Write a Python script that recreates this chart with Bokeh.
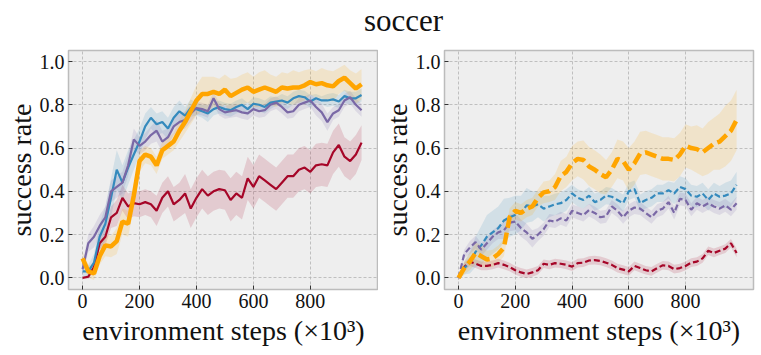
from bokeh.plotting import figure
from bokeh.layouts import column, row
from bokeh.models import FixedTicker, PrintfTickFormatter, Range1d
from bokeh.embed import file_html
from bokeh.resources import INLINE

# ---------------- data ----------------
title_text = "soccer"
x_label = "environment steps (×10³)"
y_label = "success rate"
x_ticks = [0, 200, 400, 600, 800]
y_ticks = [0.0, 0.2, 0.4, 0.6, 0.8, 1.0]

steps = list(range(0, 1000, 20))  # environment steps (x10^3)

# left panel (solid lines)
L_orange = [0.09, 0.03, 0.02, 0.10, 0.15, 0.145, 0.17, 0.26, 0.25, 0.38,
            0.54, 0.57, 0.56, 0.52, 0.59, 0.61, 0.63, 0.68, 0.72, 0.77,
            0.82, 0.85, 0.85, 0.86, 0.85, 0.87, 0.84, 0.855, 0.87, 0.88,
            0.86, 0.87, 0.88, 0.87, 0.86, 0.88, 0.875, 0.88, 0.88, 0.89,
            0.905, 0.895, 0.90, 0.89, 0.885, 0.91, 0.925, 0.90, 0.875, 0.895]
L_blue = [0.03, 0.03, 0.07, 0.19, 0.25, 0.37, 0.50, 0.44, 0.51, 0.57,
          0.63, 0.70, 0.74, 0.71, 0.72, 0.69, 0.74, 0.77, 0.75, 0.785,
          0.78, 0.77, 0.76, 0.78, 0.79, 0.78, 0.775, 0.79, 0.80, 0.78,
          0.805, 0.80, 0.79, 0.81, 0.815, 0.82, 0.81, 0.83, 0.84, 0.835,
          0.815, 0.83, 0.82, 0.82, 0.825, 0.815, 0.84, 0.83, 0.83, 0.845]
L_purple = [0.04, 0.16, 0.19, 0.24, 0.28, 0.40, 0.42, 0.44, 0.52, 0.64,
            0.61, 0.63, 0.66, 0.68, 0.63, 0.65, 0.70, 0.72, 0.73, 0.76,
            0.785, 0.78, 0.77, 0.83, 0.78, 0.765, 0.77, 0.775, 0.765, 0.76,
            0.78, 0.77, 0.775, 0.80, 0.81, 0.79, 0.765, 0.77, 0.80, 0.81,
            0.82, 0.79, 0.765, 0.72, 0.76, 0.775, 0.82, 0.835, 0.80, 0.775]
L_red = [0.0, 0.005, 0.05, 0.16, 0.19, 0.28, 0.30, 0.37, 0.33, 0.345,
         0.34, 0.35, 0.34, 0.31, 0.37, 0.40, 0.34, 0.36, 0.39, 0.32,
         0.37, 0.41, 0.38, 0.40, 0.41, 0.405, 0.36, 0.39, 0.37, 0.46,
         0.42, 0.47, 0.45, 0.43, 0.41, 0.44, 0.47, 0.47, 0.50, 0.51,
         0.49, 0.52, 0.525, 0.52, 0.58, 0.614, 0.56, 0.54, 0.57, 0.625]

L_orange_hw = [0.03, 0.03, 0.03, 0.04, 0.05, 0.05, 0.06, 0.06, 0.06, 0.06,
               0.05, 0.04, 0.04, 0.04, 0.04, 0.04, 0.04, 0.05, 0.05, 0.06,
               0.07, 0.08, 0.08, 0.07, 0.07, 0.07, 0.08, 0.07, 0.07, 0.07,
               0.07, 0.08, 0.08, 0.07, 0.07, 0.07, 0.07, 0.08, 0.07, 0.07,
               0.06, 0.06, 0.07, 0.07, 0.07, 0.06, 0.06, 0.06, 0.07, 0.07]
L_blue_hw = [0.02, 0.03, 0.04, 0.06, 0.08, 0.09, 0.09, 0.08, 0.08, 0.07,
             0.06, 0.06, 0.05, 0.05, 0.05, 0.05, 0.05, 0.05, 0.04, 0.04,
             0.03, 0.03, 0.04, 0.03, 0.03, 0.03, 0.03, 0.03, 0.03, 0.03,
             0.03, 0.03, 0.03, 0.03, 0.02, 0.03, 0.03, 0.03, 0.03, 0.03,
             0.03, 0.02, 0.02, 0.03, 0.03, 0.03, 0.03, 0.03, 0.03, 0.03]
L_purple_hw = [0.03, 0.04, 0.05, 0.05, 0.05, 0.05, 0.05, 0.05, 0.05, 0.05,
               0.04, 0.04, 0.04, 0.05, 0.05, 0.04, 0.04, 0.04, 0.04, 0.04,
               0.03, 0.03, 0.03, 0.03, 0.03, 0.03, 0.03, 0.03, 0.03, 0.03,
               0.03, 0.03, 0.03, 0.03, 0.03, 0.03, 0.03, 0.03, 0.03, 0.03,
               0.03, 0.04, 0.04, 0.04, 0.03, 0.03, 0.03, 0.03, 0.03, 0.03]
L_red_hw = [0.0, 0.01, 0.02, 0.03, 0.04, 0.05, 0.06, 0.06, 0.06, 0.06,
            0.06, 0.06, 0.06, 0.07, 0.07, 0.07, 0.08, 0.08, 0.09, 0.09,
            0.09, 0.09, 0.09, 0.09, 0.09, 0.09, 0.10, 0.10, 0.10, 0.10,
            0.10, 0.10, 0.10, 0.10, 0.10, 0.10, 0.10, 0.10, 0.10, 0.10,
            0.10, 0.10, 0.10, 0.10, 0.10, 0.10, 0.09, 0.09, 0.09, 0.08]

# right panel (dashed lines)
R_orange = [0.0, 0.045, 0.075, 0.115, 0.10, 0.085, 0.09, 0.11, 0.14, 0.28,
            0.31, 0.30, 0.32, 0.33, 0.37, 0.395, 0.40, 0.42, 0.47, 0.49,
            0.53, 0.55, 0.545, 0.515, 0.50, 0.48, 0.465, 0.50, 0.55, 0.54,
            0.50, 0.53, 0.575, 0.58, 0.57, 0.56, 0.55, 0.55, 0.545, 0.57,
            0.61, 0.60, 0.595, 0.58, 0.60, 0.62, 0.63, 0.655, 0.68, 0.73]
R_blue = [0.0, 0.045, 0.07, 0.12, 0.15, 0.19, 0.21, 0.23, 0.265, 0.28,
          0.29, 0.30, 0.335, 0.33, 0.34, 0.32, 0.33, 0.34, 0.345, 0.36,
          0.39, 0.37, 0.36, 0.38, 0.35, 0.36, 0.38, 0.375, 0.36, 0.345,
          0.40, 0.41, 0.345, 0.36, 0.37, 0.39, 0.39, 0.405, 0.39, 0.42,
          0.41, 0.38, 0.375, 0.39, 0.36, 0.39, 0.375, 0.38, 0.39, 0.43]
R_purple = [0.0, 0.11, 0.14, 0.165, 0.13, 0.16, 0.19, 0.21, 0.22, 0.255,
            0.26, 0.23, 0.21, 0.18, 0.20, 0.225, 0.265, 0.26, 0.275, 0.265,
            0.31, 0.30, 0.29, 0.313, 0.30, 0.28, 0.285, 0.33, 0.31, 0.28,
            0.31, 0.325, 0.32, 0.30, 0.28, 0.31, 0.32, 0.35, 0.30, 0.365,
            0.36, 0.315, 0.345, 0.33, 0.345, 0.33, 0.32, 0.335, 0.315, 0.345]
R_red = [0.0, 0.05, 0.075, 0.065, 0.055, 0.055, 0.06, 0.068, 0.06, 0.05,
         0.035, 0.025, 0.018, 0.025, 0.035, 0.065, 0.06, 0.068, 0.065, 0.06,
         0.052, 0.068, 0.07, 0.08, 0.082, 0.078, 0.07, 0.06, 0.045, 0.038,
         0.03, 0.055, 0.045, 0.035, 0.03, 0.045, 0.058, 0.055, 0.04, 0.045,
         0.055, 0.07, 0.075, 0.09, 0.125, 0.115, 0.125, 0.135, 0.16, 0.115]

R_orange_hw = [0.01, 0.03, 0.04, 0.05, 0.05, 0.04, 0.04, 0.04, 0.04, 0.04,
               0.04, 0.04, 0.04, 0.04, 0.04, 0.05, 0.05, 0.06, 0.07, 0.07,
               0.08, 0.08, 0.09, 0.09, 0.09, 0.09, 0.08, 0.08, 0.09, 0.09,
               0.10, 0.10, 0.10, 0.10, 0.10, 0.10, 0.10, 0.10, 0.10, 0.10,
               0.10, 0.10, 0.11, 0.11, 0.12, 0.12, 0.13, 0.14, 0.14, 0.14]
R_blue_hw = [0.01, 0.03, 0.05, 0.07, 0.09, 0.10, 0.10, 0.10, 0.10, 0.09,
             0.09, 0.08, 0.08, 0.07, 0.06, 0.06, 0.05, 0.05, 0.05, 0.05,
             0.04, 0.04, 0.04, 0.04, 0.04, 0.04, 0.04, 0.04, 0.04, 0.04,
             0.04, 0.04, 0.04, 0.04, 0.04, 0.04, 0.04, 0.04, 0.05, 0.05,
             0.05, 0.05, 0.05, 0.05, 0.05, 0.05, 0.05, 0.06, 0.06, 0.06]
R_purple_hw = [0.01, 0.02, 0.03, 0.03, 0.03, 0.03, 0.03, 0.03, 0.04, 0.04,
               0.04, 0.04, 0.04, 0.04, 0.03, 0.03, 0.03, 0.03, 0.03, 0.03,
               0.03, 0.03, 0.03, 0.03, 0.03, 0.03, 0.03, 0.03, 0.03, 0.03,
               0.03, 0.03, 0.03, 0.03, 0.03, 0.03, 0.03, 0.03, 0.03, 0.03,
               0.03, 0.03, 0.03, 0.03, 0.03, 0.03, 0.03, 0.03, 0.03, 0.03]
R_red_hw = [0.01, 0.02, 0.02, 0.02, 0.02, 0.02, 0.02, 0.02, 0.02, 0.02,
            0.02, 0.02, 0.02, 0.02, 0.02, 0.02, 0.02, 0.02, 0.02, 0.02,
            0.02, 0.02, 0.02, 0.02, 0.02, 0.02, 0.02, 0.02, 0.02, 0.02,
            0.02, 0.02, 0.02, 0.02, 0.02, 0.02, 0.02, 0.02, 0.02, 0.02,
            0.02, 0.02, 0.02, 0.02, 0.02, 0.02, 0.02, 0.02, 0.02, 0.02]

# ---------------- style ----------------
FONT = "Liberation Serif"
TXT = "#111111"
C_ORANGE = "#FFA500"
C_BLUE = "#348ABD"
C_PURPLE = "#7A68A6"
C_RED = "#A60628"


def make_panel(series, dashed, width, border_left, border_right):
    p = figure(width=width, height=309,
               x_range=Range1d(-49.5, 1039.5), y_range=Range1d(-0.054, 1.051),
               output_backend="svg", toolbar_location=None,
               min_border_top=6, min_border_left=border_left,
               min_border_right=border_right, min_border_bottom=64)
    p.background_fill_color = "#EEEEEE"
    p.border_fill_color = "white"
    p.outline_line_color = "#BCBCBC"
    p.outline_line_width = 1.5

    for g in (p.xgrid[0], p.ygrid[0]):
        g.grid_line_color = "#B2B2B2"
        g.grid_line_dash = "3 2"
        g.grid_line_width = 0.8

    for ax in (p.xaxis[0], p.yaxis[0]):
        ax.axis_line_color = None
        ax.major_tick_in = 4
        ax.major_tick_out = 0
        ax.major_tick_line_color = "#333333"
        ax.minor_tick_line_color = None
        ax.major_label_text_font = FONT
        ax.major_label_text_font_size = "20px"
        ax.major_label_text_color = TXT
        ax.axis_label_text_font = FONT
        ax.axis_label_text_font_size = "28px"
        ax.axis_label_text_font_style = "normal"
        ax.axis_label_text_color = TXT

    p.xaxis.ticker = FixedTicker(ticks=x_ticks)
    p.yaxis.ticker = FixedTicker(ticks=y_ticks)
    p.yaxis.formatter = PrintfTickFormatter(format="%.1f")
    p.xaxis.axis_label = x_label
    p.yaxis.axis_label = y_label
    p.xaxis.major_label_standoff = 4
    p.xaxis.axis_label_standoff = 4
    p.yaxis.major_label_standoff = 4
    p.yaxis.axis_label_standoff = 0

    for ys, hw, color, lw in series:
        lo = [a - b for a, b in zip(ys, hw)]
        hi = [a + b for a, b in zip(ys, hw)]
        p.varea(x=steps, y1=lo, y2=hi, fill_color=color, fill_alpha=0.15)
    for ys, hw, color, lw in series:
        if dashed:
            dash = "12 5" if lw > 3 else "6 3"
            p.line(steps, ys, line_color=color, line_width=lw, line_dash=dash)
        else:
            p.line(steps, ys, line_color=color, line_width=lw)
    return p


left = make_panel([
    (L_red, L_red_hw, C_RED, 2.2),
    (L_blue, L_blue_hw, C_BLUE, 2.2),
    (L_purple, L_purple_hw, C_PURPLE, 2.2),
    (L_orange, L_orange_hw, C_ORANGE, 4.5),
], False, 378, 68, 0)

right = make_panel([
    (R_red, R_red_hw, C_RED, 2.2),
    (R_blue, R_blue_hw, C_BLUE, 2.2),
    (R_purple, R_purple_hw, C_PURPLE, 2.2),
    (R_orange, R_orange_hw, C_ORANGE, 4.5),
], True, 378, 65, 3)

# title strip: the chart title is a real Bokeh Title, centred over its frame
head = figure(width=756, height=44, x_range=Range1d(0, 1), y_range=Range1d(0, 1),
              x_axis_type=None, y_axis_type=None, output_backend="svg",
              toolbar_location=None, min_border_left=50, min_border_right=0,
              min_border_top=0, min_border_bottom=0, title=title_text)
head.outline_line_color = None
head.xgrid.visible = False
head.ygrid.visible = False
head.background_fill_color = "white"
head.border_fill_color = "white"
head.title.align = "center"
head.title.text_font = FONT
head.title.text_font_size = "31px"
head.title.text_font_style = "normal"
head.title.text_color = TXT
head.title.standoff = 0

layout = column(head, row(left, right))
open("out.html", "w").write(file_html(layout, INLINE))
